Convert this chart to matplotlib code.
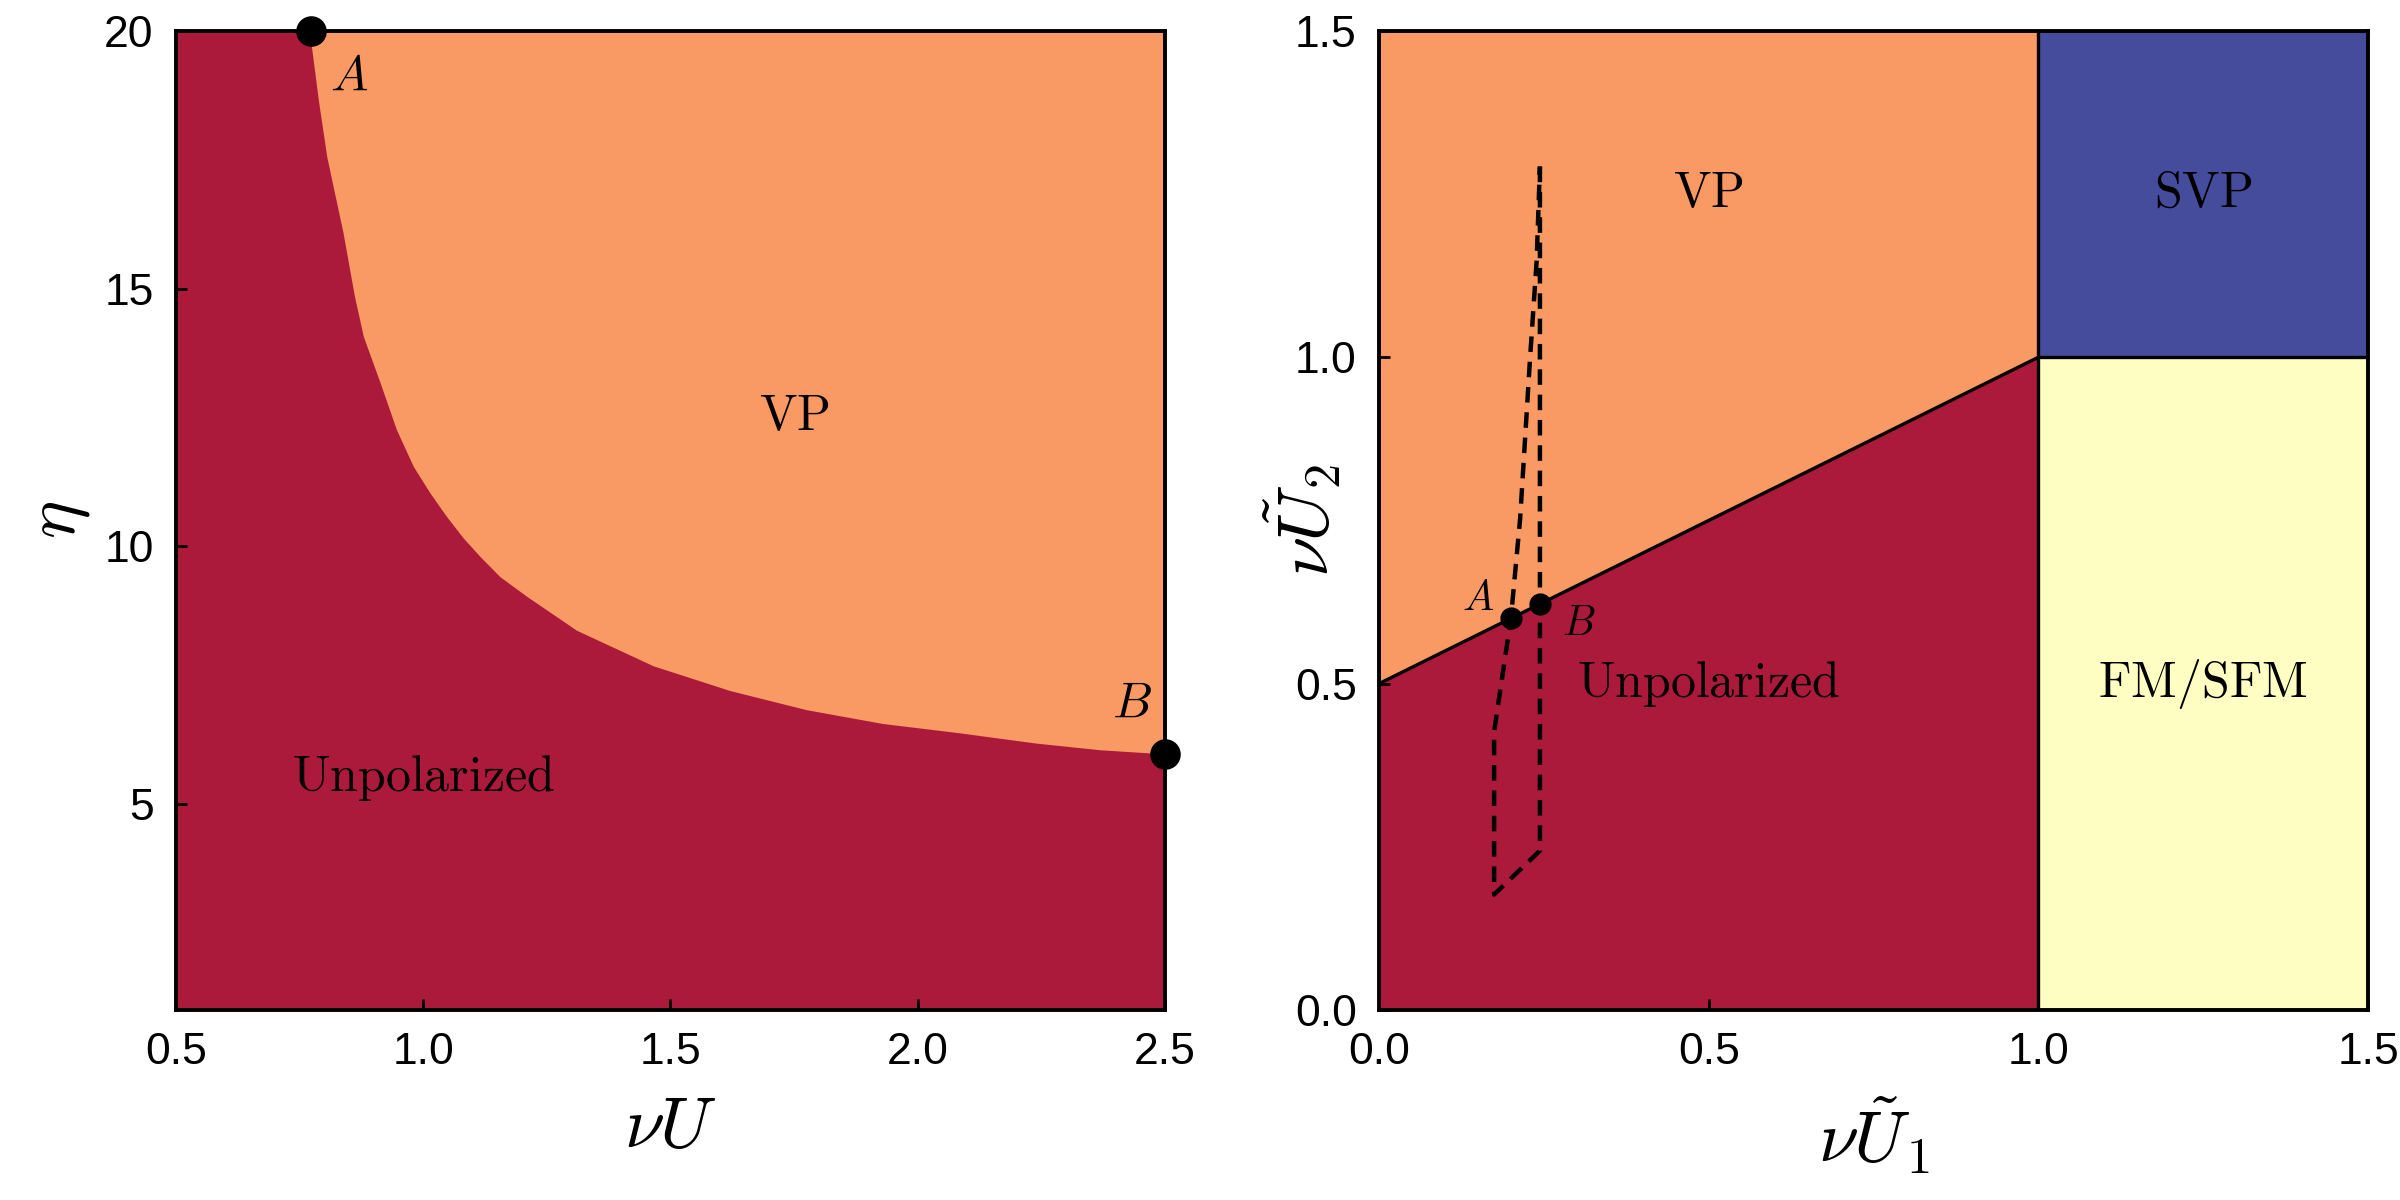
import numpy as np
import matplotlib
matplotlib.use('Agg')
import matplotlib.pyplot as plt

plt.rcParams['mathtext.fontset'] = 'cm'
plt.rcParams['font.family'] = ['Liberation Sans', 'DejaVu Sans']

# colores de las fases
c_unpol = '#ab1a3a'
c_vp = '#f99a64'
c_svp = '#454c9c'
c_fm = '#fffec2'

# panel izquierdo: frontera Unpolarized / VP
nuU_b = [0.773, 0.774, 0.788, 0.805, 0.838, 0.861, 0.879, 0.913, 0.946, 0.980,
         1.014, 1.047, 1.081, 1.115, 1.155, 1.209, 1.31, 1.465, 1.62, 1.774,
         1.929, 2.084, 2.239, 2.369, 2.5]
eta_b = [20.0, 19.70, 18.66, 17.56, 16.08, 14.85, 14.07, 13.17, 12.26, 11.55,
         11.03, 10.58, 10.16, 9.80, 9.41, 9.03, 8.37, 7.68, 7.20, 6.83,
         6.56, 6.38, 6.18, 6.05, 5.97]
ptA_left = (0.773, 20.0)
ptB_left = (2.5, 5.97)

# panel derecho: fronteras
line_x = [0.0, 1.0]
line_y = [0.5, 1.0]
x_fm = 1.0
y_svp = 1.0

# trayectoria punteada
path_x = [0.244, 0.244, 0.244, 0.1745, 0.1745, 0.200, 0.214, 0.229, 0.239, 0.244]
path_y = [1.292, 0.621, 0.244, 0.177, 0.426, 0.600, 0.753, 0.998, 1.147, 1.292]
ptA_right = (0.200, 0.600)
ptB_right = (0.244, 0.622)

fig = plt.figure(figsize=(12, 6), dpi=200)
ax1 = fig.add_axes([0.0733, 0.1583, 0.4121, 0.816])
ax2 = fig.add_axes([0.5746, 0.1583, 0.4121, 0.816])

# ---- panel izquierdo
ax1.set_facecolor(c_unpol)
ax1.fill_between(nuU_b, eta_b, 20, color=c_vp, lw=0)
ax1.plot(*ptA_left, 'ko', ms=10, clip_on=False, zorder=5)
ax1.plot(*ptB_left, 'ko', ms=10, clip_on=False, zorder=5)
ax1.text(0.85, 19.1, r'$A$', fontsize=18, ha='center', va='center')
ax1.text(2.433, 6.92, r'$B$', fontsize=18, ha='center', va='center')
ax1.text(1.75, 12.5, r'$\mathrm{VP}$', fontsize=18, ha='center', va='center')
ax1.text(1.0, 5.5, r'$\mathrm{Unpolarized}$', fontsize=18, ha='center', va='center')
ax1.set_xlim(0.5, 2.5)
ax1.set_ylim(1, 20)
ax1.set_xticks([0.5, 1.0, 1.5, 2.0, 2.5])
ax1.set_yticks([5, 10, 15, 20])
ax1.set_xlabel(r'$\nu U$', fontsize=26, labelpad=8)
ax1.set_ylabel(r'$\eta$', fontsize=26)
ax1.yaxis.set_label_coords(-0.085, 0.5)

# ---- panel derecho
ax2.fill_between(line_x, 0, line_y, color=c_unpol, lw=0)
ax2.fill_between(line_x, line_y, 1.5, color=c_vp, lw=0)
ax2.fill_between([x_fm, 1.5], 0, y_svp, color=c_fm, lw=0)
ax2.fill_between([x_fm, 1.5], y_svp, 1.5, color=c_svp, lw=0)
ax2.plot(line_x, line_y, 'k-', lw=1.2)
ax2.plot([x_fm, x_fm], [0, 1.5], 'k-', lw=1.2)
ax2.plot([x_fm, 1.5], [y_svp, y_svp], 'k-', lw=1.2)
ax2.plot(path_x, path_y, 'k', lw=1.6, linestyle=(0, (3.5, 2.2)))
ax2.plot(*ptA_right, 'ko', ms=7, zorder=5)
ax2.plot(*ptB_right, 'ko', ms=7, zorder=5)
ax2.text(0.150, 0.630, r'$A$', fontsize=15, ha='center', va='center')
ax2.text(0.303, 0.591, r'$B$', fontsize=15, ha='center', va='center')
ax2.text(0.5, 1.25, r'$\mathrm{VP}$', fontsize=18, ha='center', va='center')
ax2.text(1.25, 1.25, r'$\mathrm{SVP}$', fontsize=18, ha='center', va='center')
ax2.text(0.5, 0.5, r'$\mathrm{Unpolarized}$', fontsize=18, ha='center', va='center')
ax2.text(1.25, 0.5, r'$\mathrm{FM/SFM}$', fontsize=18, ha='center', va='center')
ax2.set_xlim(0, 1.5)
ax2.set_ylim(0, 1.5)
ax2.set_xticks([0.0, 0.5, 1.0, 1.5])
ax2.set_yticks([0.0, 0.5, 1.0, 1.5])
ax2.set_xlabel(r'$\nu \tilde{U}_1$', fontsize=26, labelpad=8)
ax2.set_ylabel(r'$\nu \tilde{U}_2$', fontsize=26)
ax2.yaxis.set_label_coords(-0.036, 0.5)

for ax in [ax1, ax2]:
    ax.tick_params(direction='in', length=4, width=1, labelsize=16, pad=8,
                   top=False, right=False)
    for s in ax.spines.values():
        s.set_linewidth(1.4)
    ax.xaxis.set_major_formatter(matplotlib.ticker.FormatStrFormatter('%.1f'))
ax1.yaxis.set_major_formatter(matplotlib.ticker.FormatStrFormatter('%d'))
ax2.yaxis.set_major_formatter(matplotlib.ticker.FormatStrFormatter('%.1f'))

fig.savefig('out.png', dpi=200)
